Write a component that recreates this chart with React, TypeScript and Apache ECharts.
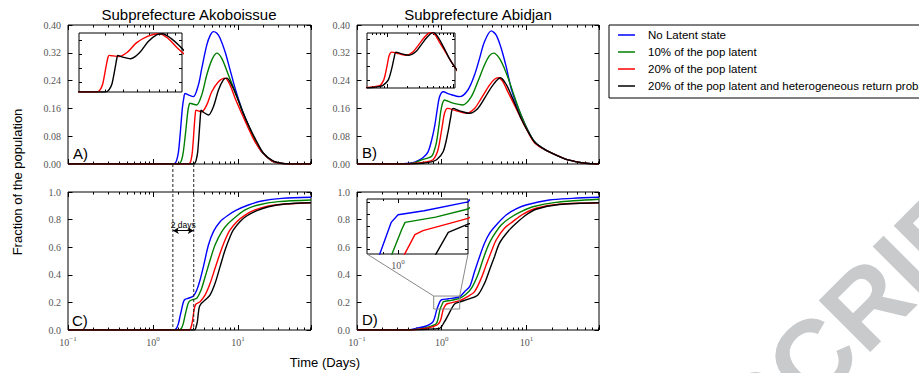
import React, { useEffect, useRef } from "react";
import * as echarts from "echarts";

type Pt = [number, number];

// ---------- legend / series ----------
const seriesNames = [
  "No Latent state",
  "10% of the pop latent",
  "20% of the pop latent",
  "20% of the pop latent and heterogeneous return probability",
];
const lineColors = ["#0000ff", "#008000", "#ff0000", "#000000"];

// ---------- Panel A: Akoboissue, fraction infected (prevalence) ----------
const akoPrevNoLatent: Pt[] = [
  [0.1, 0], [1.7, 0], [1.815, 0.002], [1.9, 0.012], [1.99, 0.035], [2.08, 0.083], [2.21, 0.16], [2.3, 0.19],
  [2.38, 0.203], [2.6, 0.199], [2.98, 0.194], [3.41, 0.227], [3.74, 0.275], [4.28, 0.342], [4.7, 0.37],
  [5.13, 0.381], [5.6, 0.377], [6.14, 0.362], [7.03, 0.323], [8.05, 0.271], [9.22, 0.218], [11.0, 0.16],
  [13.2, 0.112], [15.8, 0.069], [19.0, 0.035], [24.9, 0.009], [30, 0.003], [40, 0], [72, 0],
];
const akoPrev10: Pt[] = [
  [0.1, 0], [2.0, 0], [2.08, 0.003], [2.17, 0.012], [2.27, 0.035], [2.42, 0.093], [2.56, 0.15], [2.65, 0.17],
  [2.72, 0.175], [2.98, 0.172], [3.27, 0.17], [3.74, 0.199], [4.28, 0.256], [4.9, 0.299], [5.61, 0.319],
  [6.43, 0.304], [7.7, 0.256], [9.22, 0.208], [11.0, 0.158], [13.2, 0.11], [15.8, 0.068], [19.0, 0.035],
  [24.9, 0.009], [30, 0.003], [40, 0], [72, 0],
];
const akoPrev20: Pt[] = [
  [0.1, 0], [2.62, 0], [2.72, 0.003], [2.8, 0.012], [2.9, 0.035], [3.06, 0.112], [3.14, 0.145], [3.2, 0.155],
  [3.41, 0.153], [3.74, 0.15], [4.28, 0.17], [4.9, 0.208], [5.88, 0.237], [7.03, 0.247], [8.05, 0.227],
  [9.22, 0.189], [11.0, 0.146], [13.2, 0.103], [15.8, 0.064], [19.0, 0.035], [24.9, 0.009], [30, 0.003],
  [40, 0], [72, 0],
];
const akoPrev20Het: Pt[] = [
  [0.1, 0], [3.02, 0], [3.12, 0.003], [3.22, 0.012], [3.35, 0.035], [3.54, 0.112], [3.62, 0.145], [3.67, 0.155],
  [3.91, 0.149], [4.48, 0.141], [5.13, 0.165], [5.88, 0.213], [6.71, 0.242], [7.36, 0.247], [8.42, 0.227],
  [9.66, 0.194], [11.5, 0.146], [13.8, 0.103], [16.6, 0.064], [19.9, 0.031], [26, 0.008], [32, 0.002],
  [42, 0], [72, 0],
];

// ---------- Panel B: Abidjan, prevalence ----------
const abiPrevNoLatent: Pt[] = [
  [0.1, 0], [0.3, 0], [0.42, 0.002], [0.48, 0.005], [0.6, 0.018], [0.69, 0.035], [0.77, 0.074], [0.83, 0.112],
  [0.89, 0.16], [0.946, 0.194], [1.04, 0.208], [1.24, 0.201], [1.63, 0.194], [2.04, 0.213], [2.44, 0.256],
  [2.8, 0.304], [3.2, 0.352], [3.85, 0.383], [4.4, 0.371], [5.04, 0.333], [5.77, 0.28], [6.6, 0.218],
  [7.57, 0.175], [8.65, 0.141], [10.4, 0.097], [12.4, 0.065], [15, 0.048], [20, 0.031], [29, 0.014],
  [38, 0.007], [50, 0.002], [72, 0],
];
const abiPrev10: Pt[] = [
  [0.1, 0], [0.32, 0], [0.45, 0.002], [0.58, 0.012], [0.76, 0.022], [0.82, 0.04], [0.87, 0.064], [0.93, 0.112],
  [0.99, 0.16], [1.08, 0.184], [1.36, 0.175], [1.78, 0.17], [2.24, 0.194], [2.67, 0.237], [3.2, 0.285],
  [3.67, 0.312], [4.12, 0.319], [4.81, 0.304], [5.5, 0.275], [6.31, 0.237], [7.22, 0.194], [8.65, 0.141],
  [10.4, 0.097], [12.4, 0.065], [15, 0.048], [20, 0.031], [29, 0.014], [38, 0.007], [50, 0.002], [72, 0],
];
const abiPrev20: Pt[] = [
  [0.1, 0], [0.35, 0], [0.5, 0.002], [0.65, 0.006], [0.79, 0.012], [0.89, 0.035], [0.946, 0.064], [1.02, 0.112],
  [1.08, 0.146], [1.17, 0.16], [1.49, 0.153], [1.95, 0.146], [2.44, 0.16], [2.93, 0.189], [3.67, 0.227],
  [4.2, 0.244], [4.68, 0.248], [5.27, 0.237], [6.03, 0.208], [7.22, 0.17], [8.65, 0.131], [10.4, 0.093],
  [12.4, 0.062], [15, 0.047], [20, 0.031], [29, 0.014], [38, 0.007], [50, 0.002], [72, 0],
];
const abiPrev20Het: Pt[] = [
  [0.1, 0], [0.4, 0], [0.6, 0.002], [0.75, 0.006], [0.87, 0.012], [1.04, 0.035], [1.19, 0.093], [1.28, 0.136],
  [1.36, 0.16], [1.63, 0.153], [2.14, 0.146], [2.67, 0.16], [3.2, 0.189], [4.02, 0.227], [4.94, 0.248],
  [5.77, 0.229], [6.6, 0.199], [7.57, 0.165], [8.65, 0.131], [10.4, 0.094], [12.4, 0.064], [15, 0.048],
  [20, 0.031], [29, 0.014], [38, 0.007], [50, 0.002], [72, 0],
];

// ---------- Panel C: Akoboissue, cumulative fraction ----------
const akoCumNoLatent: Pt[] = [
  [0.1, 0], [1.7, 0], [1.815, 0.003], [1.9, 0.015], [1.99, 0.048], [2.08, 0.1], [2.18, 0.157], [2.28, 0.205],
  [2.38, 0.222], [2.6, 0.23], [2.98, 0.246], [3.27, 0.29], [3.57, 0.362], [3.91, 0.459], [4.48, 0.616],
  [5.13, 0.713], [6.14, 0.785], [7.7, 0.833], [9.66, 0.87], [13.2, 0.906], [19, 0.935], [32.7, 0.954], [72, 0.962],
];
const akoCum10: Pt[] = [
  [0.1, 0], [2.0, 0], [2.08, 0.003], [2.17, 0.015], [2.27, 0.048], [2.37, 0.1], [2.49, 0.157], [2.6, 0.195],
  [2.72, 0.212], [2.98, 0.222], [3.27, 0.23], [3.67, 0.29], [4.1, 0.386], [4.69, 0.507], [5.36, 0.616],
  [6.43, 0.713], [7.7, 0.773], [9.66, 0.826], [12.1, 0.87], [17.3, 0.906], [29.8, 0.93], [72, 0.942],
];
const akoCum20: Pt[] = [
  [0.1, 0], [2.62, 0], [2.72, 0.003], [2.8, 0.02], [2.9, 0.06], [3.06, 0.157], [3.2, 0.188], [3.57, 0.205],
  [4.1, 0.254], [4.69, 0.338], [5.36, 0.447], [6.14, 0.556], [7.03, 0.652], [8.05, 0.725], [9.66, 0.785],
  [12.1, 0.833], [15.8, 0.87], [22.8, 0.899], [35.7, 0.913], [72, 0.922],
];
const akoCum20Het: Pt[] = [
  [0.1, 0], [3.02, 0], [3.12, 0.003], [3.2, 0.02], [3.32, 0.06], [3.47, 0.157], [3.64, 0.188], [4.1, 0.217],
  [4.69, 0.254], [5.36, 0.338], [6.14, 0.459], [7.03, 0.58], [8.05, 0.676], [8.8, 0.725], [10.5, 0.785],
  [12.6, 0.826], [16.6, 0.865], [22.8, 0.893], [35.7, 0.913], [72, 0.922],
];

// ---------- Panel D: Abidjan, cumulative fraction ----------
const abiCumNoLatent: Pt[] = [
  [0.1, 0], [0.3, 0], [0.42, 0.003], [0.5, 0.012], [0.66, 0.029], [0.79, 0.06], [0.88, 0.152], [0.953, 0.206],
  [1.0, 0.219], [1.2, 0.226], [1.63, 0.241], [1.86, 0.278], [2.14, 0.314], [2.44, 0.422], [2.8, 0.531],
  [3.2, 0.628], [3.67, 0.7], [4.6, 0.773], [5.77, 0.833], [7.57, 0.877], [9.9, 0.906], [18.6, 0.942],
  [35, 0.954], [72, 0.962],
];
const abiCum10: Pt[] = [
  [0.1, 0], [0.33, 0], [0.45, 0.003], [0.6, 0.012], [0.75, 0.028], [0.87, 0.048], [0.957, 0.151], [1.026, 0.194],
  [1.05, 0.206], [1.3, 0.215], [1.63, 0.229], [1.9, 0.255], [2.24, 0.302], [2.67, 0.399], [3.06, 0.507],
  [3.5, 0.604], [4.02, 0.676], [5.04, 0.761], [6.31, 0.81], [8.65, 0.857], [11.9, 0.893], [22.3, 0.925], [72, 0.947],
];
const abiCum20: Pt[] = [
  [0.1, 0], [0.36, 0], [0.5, 0.004], [0.7, 0.015], [0.9, 0.04], [0.97, 0.07], [1.045, 0.151], [1.125, 0.185],
  [1.19, 0.192], [1.63, 0.213], [2.0, 0.24], [2.44, 0.278], [2.93, 0.375], [3.35, 0.471], [3.85, 0.567],
  [4.4, 0.652], [5.5, 0.737], [6.9, 0.785], [9.06, 0.838], [13, 0.882], [24.4, 0.911], [72, 0.922],
];
const abiCum20Het: Pt[] = [
  [0.1, 0], [0.4, 0], [0.6, 0.004], [0.8, 0.008], [0.946, 0.012], [1.08, 0.06], [1.3, 0.151], [1.42, 0.189],
  [1.63, 0.203], [2.1, 0.225], [2.67, 0.254], [3.2, 0.338], [3.67, 0.435], [4.2, 0.531], [4.8, 0.628],
  [6.03, 0.712], [7.57, 0.773], [9.9, 0.833], [13, 0.875], [24.4, 0.909], [72, 0.922],
];

const akoboissuePrevalence = [akoPrevNoLatent, akoPrev10, akoPrev20, akoPrev20Het];
const abidjanPrevalence = [abiPrevNoLatent, abiPrev10, abiPrev20, abiPrev20Het];
const akoboissueCumulative = [akoCumNoLatent, akoCum10, akoCum20, akoCum20Het];
const abidjanCumulative = [abiCumNoLatent, abiCum10, abiCum20, abiCum20Het];

// ---------- axes / ticks ----------
const timeRange = [0.1, 72];
const xMinorTicks = [0.2, 0.3, 0.4, 0.5, 0.6, 0.7, 0.8, 0.9, 2, 3, 4, 5, 6, 7, 8, 9, 20, 30, 40, 50, 60, 70];
const prevRange = [0, 0.4];
const prevInterval = 0.08;
const cumRange = [0, 1];
const cumInterval = 0.2;

const insetATime = [2, 10];
const insetAValue = [0, 0.25];
const insetATicksX = [3, 4, 5, 6, 7, 8, 9];
const insetATicksY = [0.04, 0.1, 0.16, 0.22];
const insetBTime = [0.5, 10.5];
const insetBValue = [0, 0.245];
const insetBMajorX = [1, 10];
const insetBMinorX = [0.6, 0.7, 0.8, 0.9, 2, 3, 4, 5, 6, 7, 8, 9];
const insetBTicksY = [0.035, 0.095, 0.155, 0.215];
const insetDTime = [0.805, 1.63];
const insetDValue = [0.152, 0.246];
const insetDMajorX = [1];
const insetDMinorX = [0.9];
const insetDTicksY = [0.16, 0.18, 0.2, 0.22, 0.24];

const panelTitles = ["Subprefecture Akoboissue", "Subprefecture Abidjan"];
const panelLetters = ["A)", "B)", "C)", "D)"];
const yAxisTitle = "Fraction of the population";
const xAxisTitle = "Time (Days)";
const delayStart = 1.71;
const delayEnd = 3.01;
const delayLevel = 0.72;
const delayLabel = "2 days";
const watermark = "SCRIPT";

const SANS = "Liberation Sans";
const SERIF = "Liberation Serif";
const tickStyle = { color: "#000", width: 1 };

function logFormatter(v: number) {
  const e = Math.log10(v);
  const r = Math.round(e);
  if (Math.abs(e - r) > 1e-6) return "";
  return `{b|10}{e|${r < 0 ? "\u2212" + -r : r}}`;
}
const logLabel = {
  show: true,
  margin: 5,
  formatter: logFormatter,
  rich: {
    b: { fontFamily: SERIF, fontSize: 10, color: "#555", verticalAlign: "bottom" },
    e: { fontFamily: SERIF, fontSize: 7, color: "#555", verticalAlign: "bottom", padding: [0, 0, 5, 0] },
  },
};

function logX(gridIndex: number, range: number[], position: string, length: number, customValues?: number[], label?: any) {
  const axisTick: any = { show: true, inside: true, length, lineStyle: tickStyle };
  if (customValues) axisTick.customValues = customValues;
  return {
    type: "log", logBase: 10, gridIndex, min: range[0], max: range[1], position,
    axisLine: { show: false, onZero: false },
    axisTick,
    axisLabel: label || { show: false },
    splitLine: { show: false },
    minorTick: { show: false },
    axisPointer: { show: false },
    silent: true,
  };
}
function valY(gridIndex: number, range: number[], position: string, length: number, interval?: number, customValues?: number[], label?: any) {
  const axisTick: any = { show: true, inside: true, length, lineStyle: tickStyle };
  if (customValues) axisTick.customValues = customValues;
  const ax: any = {
    type: "value", gridIndex, min: range[0], max: range[1], position,
    axisLine: { show: false, onZero: false },
    axisTick,
    axisLabel: label || { show: false },
    splitLine: { show: false },
    axisPointer: { show: false },
    silent: true,
  };
  if (interval) ax.interval = interval;
  return ax;
}

export default function App() {
  const ref = useRef<HTMLDivElement>(null);
  useEffect(() => {
    document.body.style.margin = "0";
    const chart = echarts.init(ref.current!, null, { renderer: "svg", width: 919, height: 373 });

    const gridBoxes = [
      { left: 68, top: 25, width: 243, height: 139 },
      { left: 357, top: 25, width: 242, height: 139 },
      { left: 68, top: 192, width: 243, height: 138 },
      { left: 357, top: 192, width: 242, height: 138 },
      { left: 79, top: 33, width: 103, height: 59 },
      { left: 367, top: 33, width: 88, height: 55 },
      { left: 367, top: 199, width: 101, height: 55 },
    ];
    const grid = gridBoxes.map((g) => ({
      ...g, show: true, borderColor: "#000", borderWidth: 1, backgroundColor: "transparent",
      containLabel: false, outerBoundsMode: "none",
    }));

    const xAxes: any[] = [];
    const yAxes: any[] = [];
    const addX = (a: any) => (xAxes.push(a), xAxes.length - 1);
    const addY = (a: any) => (yAxes.push(a), yAxes.length - 1);

    const panels = [
      { data: akoboissuePrevalence, range: prevRange, interval: prevInterval, digits: 2, labels: false },
      { data: abidjanPrevalence, range: prevRange, interval: prevInterval, digits: 2, labels: false },
      { data: akoboissueCumulative, range: cumRange, interval: cumInterval, digits: 1, labels: true },
      { data: abidjanCumulative, range: cumRange, interval: cumInterval, digits: 1, labels: true },
    ];
    const mainAxis: { x: number; y: number }[] = [];
    panels.forEach((p, g) => {
      const x = addX(logX(g, timeRange, "bottom", 5, undefined, p.labels ? logLabel : undefined));
      addX(logX(g, timeRange, "bottom", 2.5, xMinorTicks));
      addX(logX(g, timeRange, "top", 5));
      addX(logX(g, timeRange, "top", 2.5, xMinorTicks));
      const y = addY(valY(g, p.range, "left", 4.5, p.interval, undefined, {
        show: true, margin: 7, fontFamily: SERIF, fontSize: 10, color: "#555",
        formatter: (v: number) => v.toFixed(p.digits),
      }));
      addY(valY(g, p.range, "right", 4.5, p.interval));
      mainAxis.push({ x, y });
    });

    // inset A
    const xIA = addX(logX(4, insetATime, "bottom", 2.5, insetATicksX));
    addX(logX(4, insetATime, "top", 2.5, insetATicksX));
    const yIA = addY(valY(4, insetAValue, "left", 3, undefined, insetATicksY));
    addY(valY(4, insetAValue, "right", 3, undefined, insetATicksY));
    // inset B
    const xIB = addX(logX(5, insetBTime, "bottom", 4, insetBMajorX));
    addX(logX(5, insetBTime, "bottom", 2, insetBMinorX));
    addX(logX(5, insetBTime, "top", 4, insetBMajorX));
    addX(logX(5, insetBTime, "top", 2, insetBMinorX));
    const yIB = addY(valY(5, insetBValue, "left", 3, undefined, insetBTicksY));
    addY(valY(5, insetBValue, "right", 3, undefined, insetBTicksY));
    // inset D
    const xID = addX(logX(6, insetDTime, "bottom", 4, insetDMajorX, { ...logLabel, margin: 4 }));
    addX(logX(6, insetDTime, "bottom", 2, insetDMinorX));
    addX(logX(6, insetDTime, "top", 4, insetDMajorX));
    addX(logX(6, insetDTime, "top", 2, insetDMinorX));
    const yID = addY(valY(6, insetDValue, "left", 3, undefined, insetDTicksY));
    addY(valY(6, insetDValue, "right", 3, undefined, insetDTicksY));

    const mkSeries = (k: number, data: Pt[], xi: number, yi: number, smooth: number | boolean, extra: any = {}) => ({
      type: "line", name: seriesNames[k], data, xAxisIndex: xi, yAxisIndex: yi,
      symbol: "none", showSymbol: false, smooth, clip: true, silent: true,
      lineStyle: { color: lineColors[k], width: 1.4 }, itemStyle: { color: lineColors[k] },
      ...extra,
    });

    const series: any[] = [];
    panels.forEach((p, g) => {
      p.data.forEach((d, k) => {
        const extra: any = {};
        if (g === 2 && k === 3) {
          extra.markLine = {
            silent: true, symbol: ["arrow", "arrow"], symbolSize: [5, 6],
            lineStyle: { color: "#000", width: 1, type: "solid" },
            label: { show: true, position: "insideMiddleTop", distance: 1, formatter: delayLabel, fontFamily: SANS, fontSize: 8.5, color: "#000" },
            data: [[{ coord: [delayStart, delayLevel] }, { coord: [delayEnd, delayLevel] }]],
          };
        }
        series.push(mkSeries(k, d, mainAxis[g].x, mainAxis[g].y, 0.3, extra));
      });
    });
    [2, 3].forEach((k) => series.push(mkSeries(k, akoboissuePrevalence[k], xIA, yIA, 0.3)));
    [2, 3].forEach((k) => series.push(mkSeries(k, abidjanPrevalence[k], xIB, yIB, 0.3)));
    [0, 1, 2, 3].forEach((k) => series.push(mkSeries(k, abidjanCumulative[k], xID, yID, false)));

    chart.setOption({
      animation: false,
      backgroundColor: "#fff",
      grid,
      xAxis: xAxes,
      yAxis: yAxes,
      series,
      legend: {
        data: seriesNames,
        orient: "vertical",
        left: 609,
        top: 25,
        icon: "rect",
        itemWidth: 17,
        itemHeight: 1.5,
        itemGap: 3,
        padding: [3, 8, 5, 9],
        borderColor: "#000",
        borderWidth: 1,
        borderRadius: 0,
        selectedMode: false,
        textStyle: { fontFamily: SANS, fontSize: 11.5, lineHeight: 14, color: "#000", padding: [0, 0, 0, 8] },
      },
    });

    const px = (xi: number, yi: number, pt: number[]) =>
      chart.convertToPixel({ xAxisIndex: xi, yAxisIndex: yi } as any, pt) as unknown as number[];

    const graphic: any[] = [];
    // watermark (partly visible, bottom right)
    graphic.push({
      type: "text", x: 735, y: 435, rotation: Math.PI / 4, silent: true, z: -10,
      style: { text: watermark, fontFamily: SANS, fontWeight: "bold", fontSize: 106, fill: "#c8cacc", align: "left", verticalAlign: "middle" },
    });
    // titles
    graphic.push({ type: "text", x: 189, y: 14, silent: true, style: { text: panelTitles[0], fontFamily: SANS, fontSize: 15, fill: "#000", align: "center", verticalAlign: "middle" } });
    graphic.push({ type: "text", x: 478, y: 14, silent: true, style: { text: panelTitles[1], fontFamily: SANS, fontSize: 15, fill: "#000", align: "center", verticalAlign: "middle" } });
    // panel letters
    const letterPos = [[73, 153], [362, 152], [72, 320], [362, 319]];
    panelLetters.forEach((t, i) =>
      graphic.push({ type: "text", x: letterPos[i][0], y: letterPos[i][1], silent: true, style: { text: t, fontFamily: SANS, fontSize: 15, fill: "#000", align: "left", verticalAlign: "middle" } })
    );
    // axis titles
    graphic.push({ type: "text", x: 17, y: 182, rotation: Math.PI / 2, silent: true, style: { text: yAxisTitle, fontFamily: SANS, fontSize: 13, fill: "#000", align: "center", verticalAlign: "middle" } });
    graphic.push({ type: "text", x: 325, y: 362, silent: true, style: { text: xAxisTitle, fontFamily: SANS, fontSize: 13, fill: "#000", align: "center", verticalAlign: "middle" } });

    // dashed delay lines spanning from panel A bottom to panel C bottom
    [delayStart, delayEnd].forEach((t) => {
      const pc = px(mainAxis[2].x, mainAxis[2].y, [t, 0]);
      const pa = px(mainAxis[0].x, mainAxis[0].y, [t, 0]);
      graphic.push({
        type: "line", silent: true, z: 5,
        shape: { x1: pc[0], y1: pa[1], x2: pc[0], y2: pc[1] },
        style: { stroke: "#222", lineWidth: 1, lineDash: [3, 2] },
      });
    });

    // zoom box in panel D and connectors to inset
    const tl = px(mainAxis[3].x, mainAxis[3].y, [insetDTime[0], insetDValue[1]]);
    const br = px(mainAxis[3].x, mainAxis[3].y, [insetDTime[1], insetDValue[0]]);
    graphic.push({
      type: "rect", silent: true, z: 5,
      shape: { x: tl[0], y: tl[1], width: br[0] - tl[0], height: br[1] - tl[1] },
      style: { fill: "none", stroke: "#888", lineWidth: 1 },
    });
    const ibl = px(xID, yID, [insetDTime[0], insetDValue[0]]);
    const ibr = px(xID, yID, [insetDTime[1], insetDValue[0]]);
    graphic.push({ type: "line", silent: true, z: 5, shape: { x1: ibl[0], y1: ibl[1], x2: tl[0], y2: tl[1] }, style: { stroke: "#888", lineWidth: 1 } });
    graphic.push({ type: "line", silent: true, z: 5, shape: { x1: ibr[0], y1: ibr[1], x2: br[0], y2: tl[1] }, style: { stroke: "#888", lineWidth: 1 } });

    chart.setOption({ graphic });

    return () => chart.dispose();
  }, []);

  return <div ref={ref} style={{ width: 919, height: 373, position: "absolute", left: 0, top: 0 }} />;
}
